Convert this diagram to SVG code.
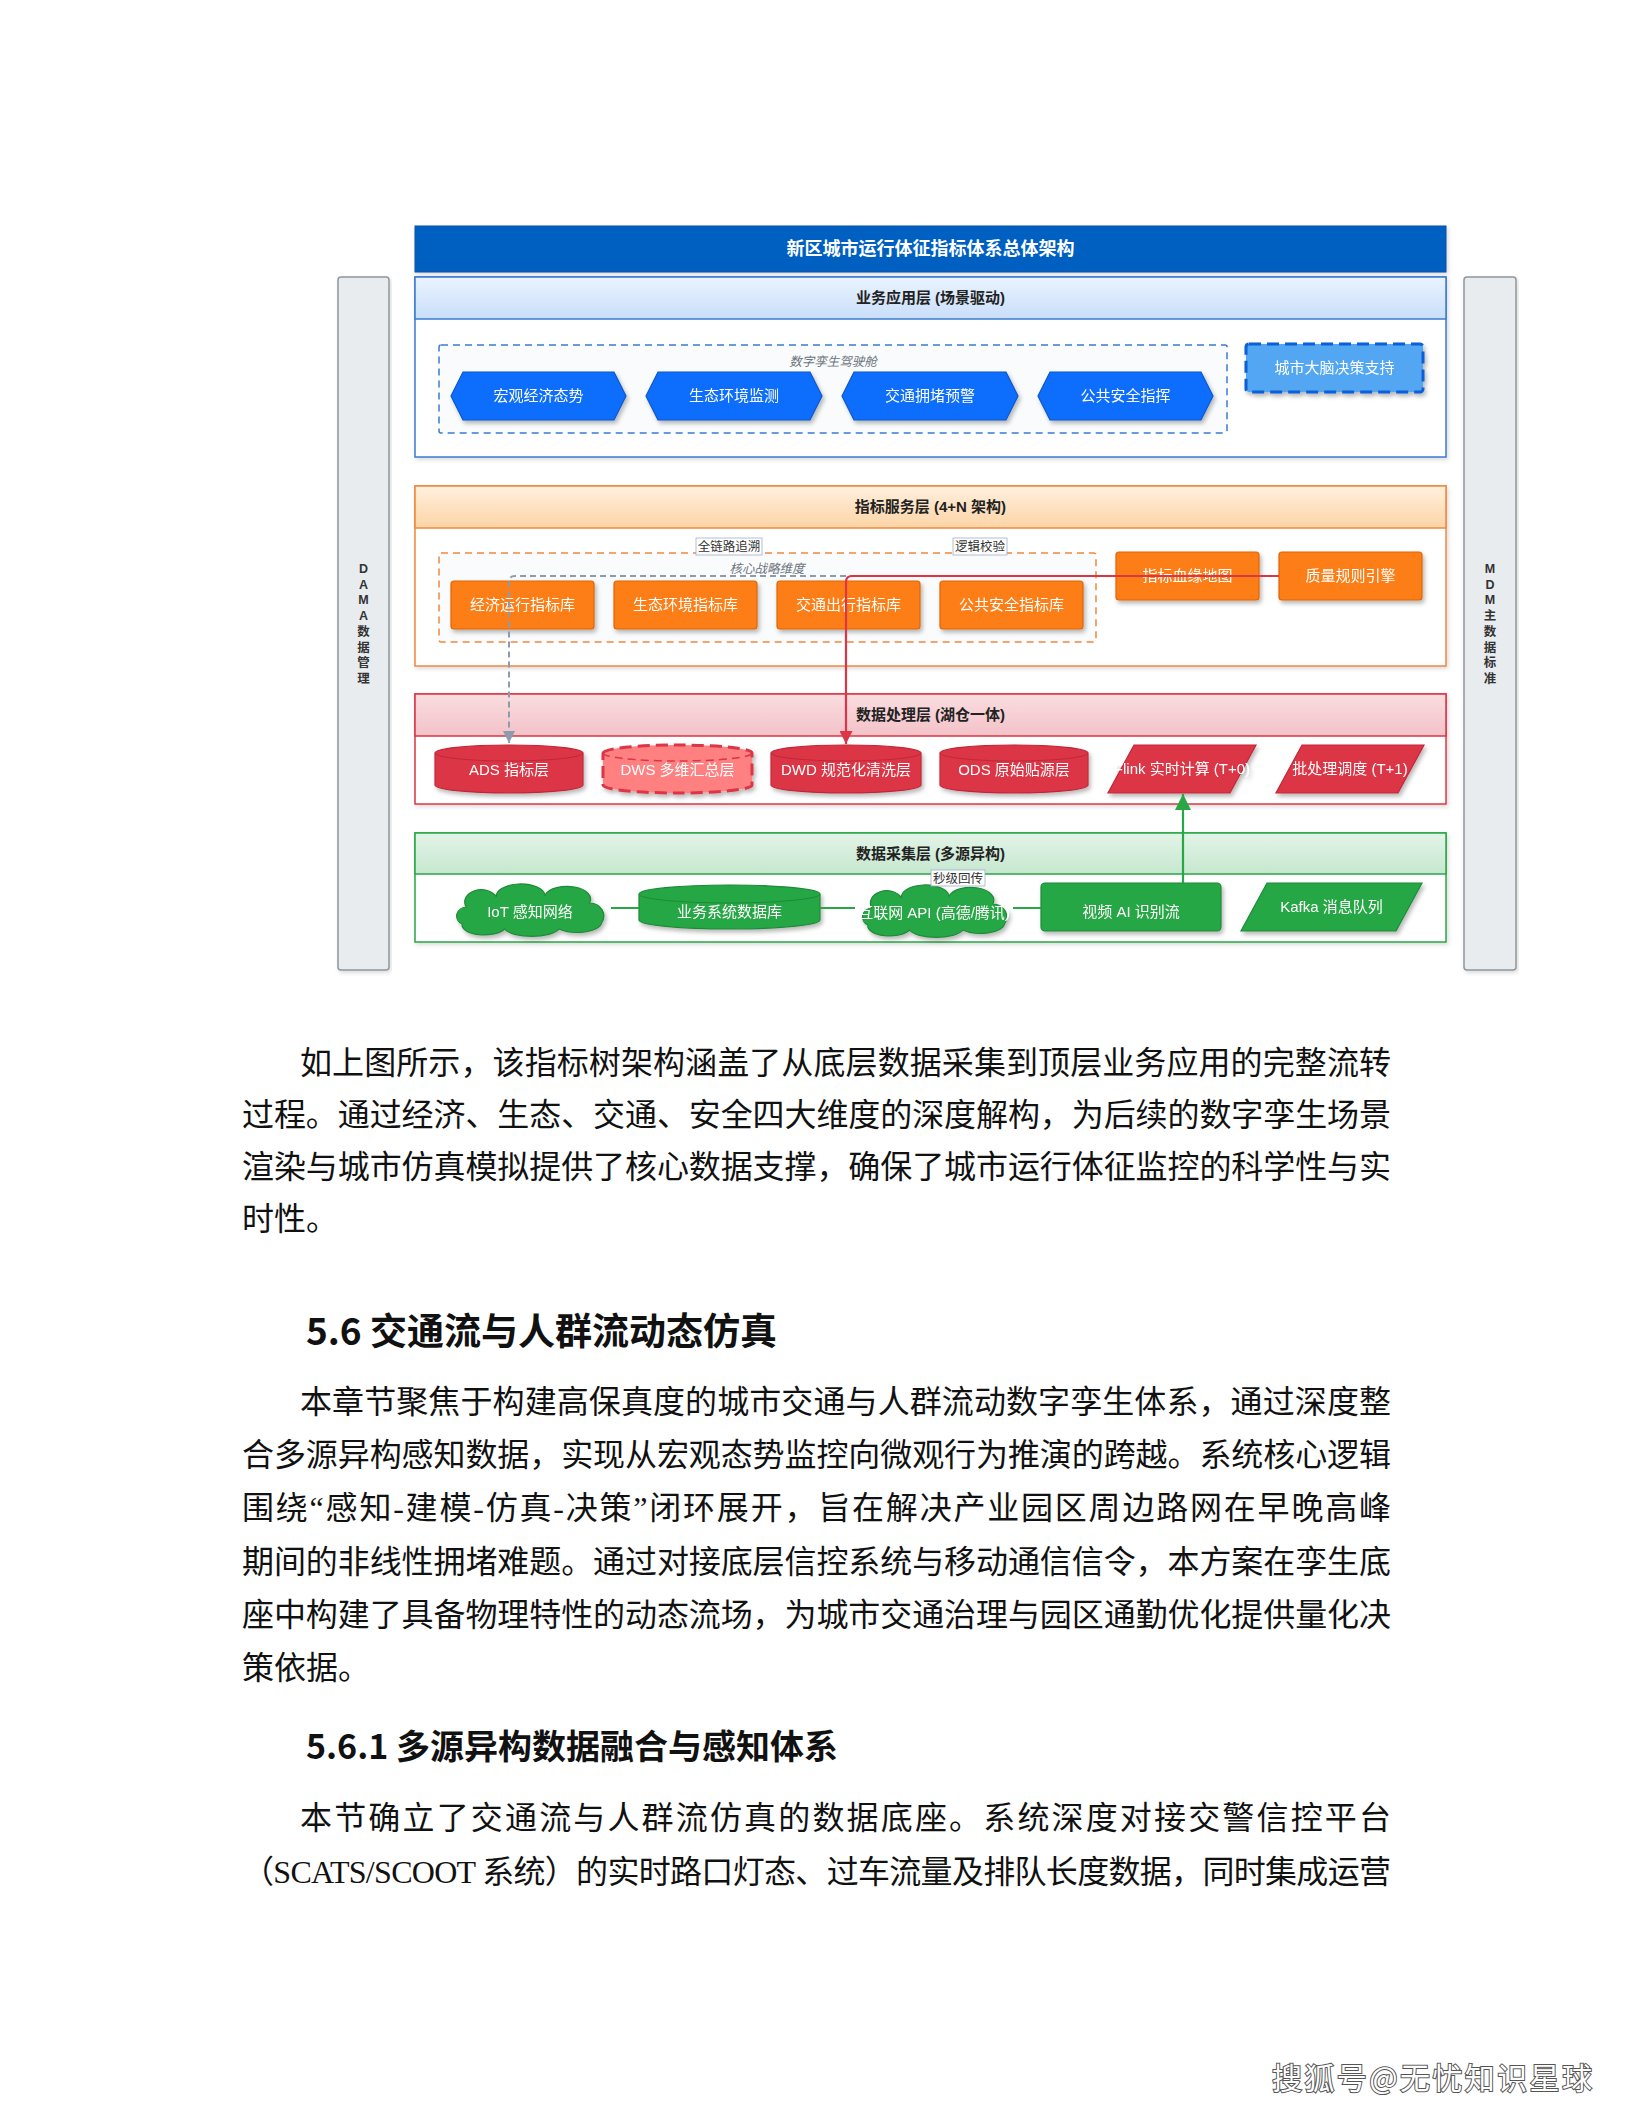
<svg xmlns="http://www.w3.org/2000/svg" width="1632" height="2112" viewBox="0 0 1632 2112">
<style>
.dg{font-family:"Noto Sans CJK SC","Liberation Sans",sans-serif}
.nt{font-family:"Liberation Sans","Noto Sans CJK SC",sans-serif;font-size:15px;fill:#fff;text-anchor:middle}
.lh{font-family:"Liberation Sans","Noto Sans CJK SC",sans-serif;font-size:15px;font-weight:bold;fill:#222;text-anchor:middle}
.cl{font-family:"Noto Sans CJK SC",sans-serif;font-size:12.5px;font-style:italic;fill:#6c757d;text-anchor:middle}
.el{font-family:"Noto Sans CJK SC",sans-serif;font-size:12.5px;fill:#333;text-anchor:middle}
.elb{fill:#fff;fill-opacity:.92;stroke:#9fb0c8;stroke-width:.8}
.sb{fill:#e9ecef;stroke:#8f969d;stroke-width:1.5}
.sbt{font-family:"Liberation Sans","Noto Sans CJK SC",sans-serif;font-size:12.5px;font-weight:bold;fill:#333;text-anchor:middle}
.body{font-family:"Liberation Serif","Noto Sans CJK SC",serif;font-size:32px;fill:#111}
.h1{font-family:"Noto Sans CJK SC","Liberation Sans",sans-serif;font-weight:bold;fill:#111}
.blue{fill:#0d6efd;stroke:#0a58ca;stroke-width:1.2}
.orange{fill:#fd7e14;stroke:#e0650a;stroke-width:1.2}
.red{fill:#dc3545;stroke:#c0283a;stroke-width:1.2}
.green{fill:#28a745;stroke:#1e8a38;stroke-width:1.2}
</style>
<defs>
<filter id="sh" x="-10%" y="-20%" width="130%" height="160%">
<feDropShadow dx="2" dy="3" stdDeviation="2" flood-color="#000" flood-opacity="0.28"/>
</filter>
<filter id="shl" x="-5%" y="-5%" width="110%" height="115%">
<feDropShadow dx="1.5" dy="2" stdDeviation="2" flood-color="#000" flood-opacity="0.15"/>
</filter>
<linearGradient id="gBlue" x1="0" y1="0" x2="0" y2="1"><stop offset="0" stop-color="#eaf3ff"/><stop offset="1" stop-color="#c9defa"/></linearGradient>
<linearGradient id="gOrange" x1="0" y1="0" x2="0" y2="1"><stop offset="0" stop-color="#fff0de"/><stop offset="1" stop-color="#fcd4a6"/></linearGradient>
<linearGradient id="gRed" x1="0" y1="0" x2="0" y2="1"><stop offset="0" stop-color="#fadde0"/><stop offset="1" stop-color="#f3c2c8"/></linearGradient>
<linearGradient id="gGreen" x1="0" y1="0" x2="0" y2="1"><stop offset="0" stop-color="#e3f4e7"/><stop offset="1" stop-color="#c6e7cf"/></linearGradient>
<marker id="aGray" viewBox="0 0 10 10" refX="10" refY="5" markerWidth="12" markerHeight="12" markerUnits="userSpaceOnUse" orient="auto"><path d="M0,0 L10,5 L0,10 z" fill="#8c9bb0"/></marker>
<marker id="aRed" viewBox="0 0 10 10" refX="10" refY="5" markerWidth="13" markerHeight="13" markerUnits="userSpaceOnUse" orient="auto"><path d="M0,0 L10,5 L0,10 z" fill="#dc3545"/></marker>
<marker id="aGreen" viewBox="0 0 10 10" refX="10" refY="5" markerWidth="16" markerHeight="16" markerUnits="userSpaceOnUse" orient="auto"><path d="M0,0 L10,5 L0,10 z" fill="#28a745"/></marker>
<path id="cloud" d="M18,16 A16,12 0 0 1 48,6 A24,12 0 0 1 96,4 A22,12 0 0 1 140,12 A14,13 0 0 1 152,32 A24,10 0 0 1 110,38 A28,10 0 0 1 56,38 A22,10 0 0 1 14,33 A10,9 0 0 1 18,16 Z"/>
</defs>

<rect width="1632" height="2112" fill="#fff"/>

<!-- Side bars -->
<g id="dama">
<rect class="sb" x="338" y="277" width="51" height="693" rx="3" filter="url(#shl)"/>
<text class="sbt" x="363.5"><tspan x="363.5" y="573">D</tspan><tspan x="363.5" y="589">A</tspan><tspan x="363.5" y="604">M</tspan><tspan x="363.5" y="620">A</tspan><tspan x="363.5" y="636">数</tspan><tspan x="363.5" y="652">据</tspan><tspan x="363.5" y="667">管</tspan><tspan x="363.5" y="683">理</tspan></text>
</g>
<g id="mdm">
<rect class="sb" x="1464" y="277" width="52" height="693" rx="3" filter="url(#shl)"/>
<text class="sbt" x="1490"><tspan x="1490" y="573">M</tspan><tspan x="1490" y="589">D</tspan><tspan x="1490" y="604">M</tspan><tspan x="1490" y="620">主</tspan><tspan x="1490" y="636">数</tspan><tspan x="1490" y="652">据</tspan><tspan x="1490" y="667">标</tspan><tspan x="1490" y="683">准</tspan></text>
</g>

<!-- Title -->
<g id="title">
<rect x="415" y="226" width="1031" height="46" fill="#0660c2" stroke="#0a4fa0" stroke-width="1" filter="url(#shl)"/>
<text x="930.5" y="255" text-anchor="middle" font-family="Noto Sans CJK SC, sans-serif" font-size="18" font-weight="bold" fill="#fff">新区城市运行体征指标体系总体架构</text>
</g>

<!-- Business application layer -->
<g id="layer-app">
<rect x="415" y="277" width="1031" height="180" fill="#fff" stroke="#3a7bd0" stroke-width="1.5" filter="url(#shl)"/>
<rect x="415" y="277" width="1031" height="42" fill="url(#gBlue)" stroke="#3a7bd0" stroke-width="1.5"/>
<text class="lh" x="930.5" y="303">业务应用层 (场景驱动)</text>
</g>
<g id="cluster-twin">
<rect x="439" y="345" width="788" height="88" fill="#fafbfc" stroke="#3a7bd0" stroke-width="1.5" stroke-dasharray="7,5" rx="2"/>
<text class="cl" x="833" y="366">数字孪生驾驶舱</text>
</g>
<g id="n-macro" filter="url(#sh)"><polygon class="blue" points="451,396 463,372 614,372 626,396 614,420 463,420"/><text class="nt" x="538.5" y="401">宏观经济态势</text></g>
<g id="n-eco" filter="url(#sh)"><polygon class="blue" points="646,396 658,372 810,372 822,396 810,420 658,420"/><text class="nt" x="734" y="401">生态环境监测</text></g>
<g id="n-traffic" filter="url(#sh)"><polygon class="blue" points="842,396 854,372 1006,372 1018,396 1006,420 854,420"/><text class="nt" x="930" y="401">交通拥堵预警</text></g>
<g id="n-safety" filter="url(#sh)"><polygon class="blue" points="1038,396 1050,372 1201,372 1213,396 1201,420 1050,420"/><text class="nt" x="1125.5" y="401">公共安全指挥</text></g>
<g id="n-brain" filter="url(#sh)"><rect x="1246" y="344" width="177" height="48" rx="3" fill="#52a6f2" stroke="#0b5ed7" stroke-width="3" stroke-dasharray="12,6"/><text class="nt" x="1334.5" y="373">城市大脑决策支持</text></g>

<!-- Indicator service layer -->
<g id="layer-index">
<rect x="415" y="486" width="1031" height="180" fill="#fff" stroke="#f0883e" stroke-width="1.5" filter="url(#shl)"/>
<rect x="415" y="486" width="1031" height="42" fill="url(#gOrange)" stroke="#f0883e" stroke-width="1.5"/>
<text class="lh" x="930.5" y="512">指标服务层 (4+N 架构)</text>
</g>
<g id="cluster-core">
<rect x="439" y="553" width="657" height="89" fill="#fafbfc" stroke="#f0883e" stroke-width="1.5" stroke-dasharray="7,5" rx="2"/>
<text class="cl" x="767" y="573">核心战略维度</text>
</g>
<g id="n-econ-lib" filter="url(#sh)"><rect class="orange" x="451" y="581" width="143" height="48" rx="3"/><text class="nt" x="522.5" y="610">经济运行指标库</text></g>
<g id="n-eco-lib" filter="url(#sh)"><rect class="orange" x="614" y="581" width="143" height="48" rx="3"/><text class="nt" x="685.5" y="610">生态环境指标库</text></g>
<g id="n-traffic-lib" filter="url(#sh)"><rect class="orange" x="777" y="581" width="143" height="48" rx="3"/><text class="nt" x="848.5" y="610">交通出行指标库</text></g>
<g id="n-safety-lib" filter="url(#sh)"><rect class="orange" x="940" y="581" width="143" height="48" rx="3"/><text class="nt" x="1011.5" y="610">公共安全指标库</text></g>
<g id="n-lineage" filter="url(#sh)"><rect class="orange" x="1116" y="552" width="143" height="48" rx="3"/><text class="nt" x="1187.5" y="581">指标血缘地图</text></g>
<g id="n-quality" filter="url(#sh)"><rect class="orange" x="1279" y="552" width="143" height="48" rx="3"/><text class="nt" x="1350.5" y="581">质量规则引擎</text></g>

<!-- Data processing layer -->
<g id="layer-proc">
<rect x="415" y="694" width="1031" height="110" fill="#fff" stroke="#dc3545" stroke-width="1.5" filter="url(#shl)"/>
<rect x="415" y="694" width="1031" height="42" fill="url(#gRed)" stroke="#dc3545" stroke-width="1.5"/>
<text class="lh" x="930.5" y="720">数据处理层 (湖仓一体)</text>
</g>
<g id="n-ads" filter="url(#sh)"><path class="red" d="M435,753 A74,8 0 0 1 583,753 V785 A74,8 0 0 1 435,785 Z"/><path d="M435,753 A74,8 0 0 0 583,753" fill="none" stroke="#c0283a" stroke-width="1"/><text class="nt" x="509" y="775">ADS 指标层</text></g>
<g id="n-dws" filter="url(#sh)"><path d="M603,753 A74.5,8 0 0 1 752,753 V785 A74.5,8 0 0 1 603,785 Z" fill="#ff8080" stroke="#dc3545" stroke-width="3" stroke-dasharray="12,6"/><path d="M603,753 A74.5,8 0 0 0 752,753" fill="none" stroke="#dc3545" stroke-width="1.5" stroke-dasharray="8,5"/><text class="nt" x="677.5" y="775">DWS 多维汇总层</text></g>
<g id="n-dwd" filter="url(#sh)"><path class="red" d="M771,753 A75,8 0 0 1 921,753 V785 A75,8 0 0 1 771,785 Z"/><path d="M771,753 A75,8 0 0 0 921,753" fill="none" stroke="#c0283a" stroke-width="1"/><text class="nt" x="846" y="775">DWD 规范化清洗层</text></g>
<g id="n-ods" filter="url(#sh)"><path class="red" d="M940,753 A74,8 0 0 1 1088,753 V785 A74,8 0 0 1 940,785 Z"/><path d="M940,753 A74,8 0 0 0 1088,753" fill="none" stroke="#c0283a" stroke-width="1"/><text class="nt" x="1014" y="775">ODS 原始贴源层</text></g>
<g id="n-flink" filter="url(#sh)"><polygon class="red" points="1134,745 1256,745 1230,793 1108,793"/><text class="nt" x="1182" y="774">Flink 实时计算 (T+0)</text></g>
<g id="n-batch" filter="url(#sh)"><polygon class="red" points="1302,745 1424,745 1398,793 1276,793"/><text class="nt" x="1350" y="774">批处理调度 (T+1)</text></g>

<!-- Data collection layer -->
<g id="layer-collect">
<rect x="415" y="833" width="1031" height="109" fill="#fff" stroke="#28a745" stroke-width="1.5" filter="url(#shl)"/>
<rect x="415" y="833" width="1031" height="41" fill="url(#gGreen)" stroke="#28a745" stroke-width="1.5"/>
<text class="lh" x="930.5" y="859">数据采集层 (多源异构)</text>
</g>
<g id="n-iot" filter="url(#sh)"><use href="#cloud" transform="translate(448,891) scale(1.01,1.0)" class="green"/><text class="nt" x="530" y="917">IoT 感知网络</text></g>
<g id="n-bizdb" filter="url(#sh)"><path class="green" d="M639,894 A90.5,9 0 0 1 820,894 V920 A90.5,9 0 0 1 639,920 Z"/><path d="M639,894 A90.5,9 0 0 0 820,894" fill="none" stroke="#1e8a38" stroke-width="1"/><text class="nt" x="729.5" y="917">业务系统数据库</text></g>
<g id="n-api" filter="url(#sh)"><use href="#cloud" transform="translate(854,892) scale(0.99,1.0)" class="green"/><text class="nt" x="934" y="918">互联网 API (高德/腾讯)</text></g>
<g id="n-video" filter="url(#sh)"><rect class="green" x="1041" y="883" width="180" height="48" rx="4"/><text class="nt" x="1131" y="917">视频 AI 识别流</text></g>
<g id="n-kafka" filter="url(#sh)"><polygon class="green" points="1267,883 1422,883 1396,931 1241,931"/><text class="nt" x="1331.5" y="912">Kafka 消息队列</text></g>

<!-- Connectors -->
<g id="connectors" fill="none">
<path d="M611,908 H639 M820,908 H855 M1013,908 H1041" stroke="#28a745" stroke-width="2"/>
<path d="M1116,576 H515 Q509,576 509,582 V743" stroke="#8c9bb0" stroke-width="2" stroke-dasharray="6,4" marker-end="url(#aGray)"/>
<path d="M1279,576 H852 Q846,576 846,582 V744" stroke="#dc3545" stroke-width="2.2" marker-end="url(#aRed)"/>
<path d="M1183,883 V794" stroke="#28a745" stroke-width="2.2" marker-end="url(#aGreen)"/>
</g>
<g id="edge-labels">
<rect class="elb" x="696" y="538" width="66" height="17"/><text class="el" x="729" y="551">全链路追溯</text>
<rect class="elb" x="953" y="538" width="54" height="17"/><text class="el" x="980" y="551">逻辑校验</text>
<rect class="elb" x="931" y="870" width="54" height="16"/><text class="el" x="958" y="883">秒级回传</text>
</g>

<!-- Body text -->
<g id="para1" class="body">
<text x="300" y="1074" textLength="1091" lengthAdjust="spacing">如上图所示，该指标树架构涵盖了从底层数据采集到顶层业务应用的完整流转</text>
<text x="242" y="1126" textLength="1149" lengthAdjust="spacing">过程。通过经济、生态、交通、安全四大维度的深度解构，为后续的数字孪生场景</text>
<text x="242" y="1178" textLength="1149" lengthAdjust="spacing">渲染与城市仿真模拟提供了核心数据支撑，确保了城市运行体征监控的科学性与实</text>
<text x="242" y="1230">时性。</text>
</g>
<text id="h-5-6" class="h1" x="306" y="1345" font-size="37">5.6 交通流与人群流动态仿真</text>
<g id="para2" class="body">
<text x="300" y="1413" textLength="1091" lengthAdjust="spacing">本章节聚焦于构建高保真度的城市交通与人群流动数字孪生体系，通过深度整</text>
<text x="242" y="1466" textLength="1149" lengthAdjust="spacing">合多源异构感知数据，实现从宏观态势监控向微观行为推演的跨越。系统核心逻辑</text>
<text x="242" y="1519" textLength="1149" lengthAdjust="spacing">围绕“感知-建模-仿真-决策”闭环展开，旨在解决产业园区周边路网在早晚高峰</text>
<text x="242" y="1573" textLength="1149" lengthAdjust="spacing">期间的非线性拥堵难题。通过对接底层信控系统与移动通信信令，本方案在孪生底</text>
<text x="242" y="1626" textLength="1149" lengthAdjust="spacing">座中构建了具备物理特性的动态流场，为城市交通治理与园区通勤优化提供量化决</text>
<text x="242" y="1679">策依据。</text>
</g>
<text id="h-5-6-1" class="h1" x="306" y="1759" font-size="34">5.6.1 多源异构数据融合与感知体系</text>
<g id="para3" class="body">
<text x="300" y="1829" textLength="1091" lengthAdjust="spacing">本节确立了交通流与人群流仿真的数据底座。系统深度对接交警信控平台</text>
<text x="242" y="1883" textLength="1149" lengthAdjust="spacing">（SCATS/SCOOT 系统）的实时路口灯态、过车流量及排队长度数据，同时集成运营</text>
</g>
<text id="sohu" x="1272" y="2089" font-family="Noto Sans CJK SC, sans-serif" font-size="30" fill="#fff" stroke="#555" stroke-width="2" paint-order="stroke" textLength="320" lengthAdjust="spacing">搜狐号@无忧知识星球</text>
</svg>
